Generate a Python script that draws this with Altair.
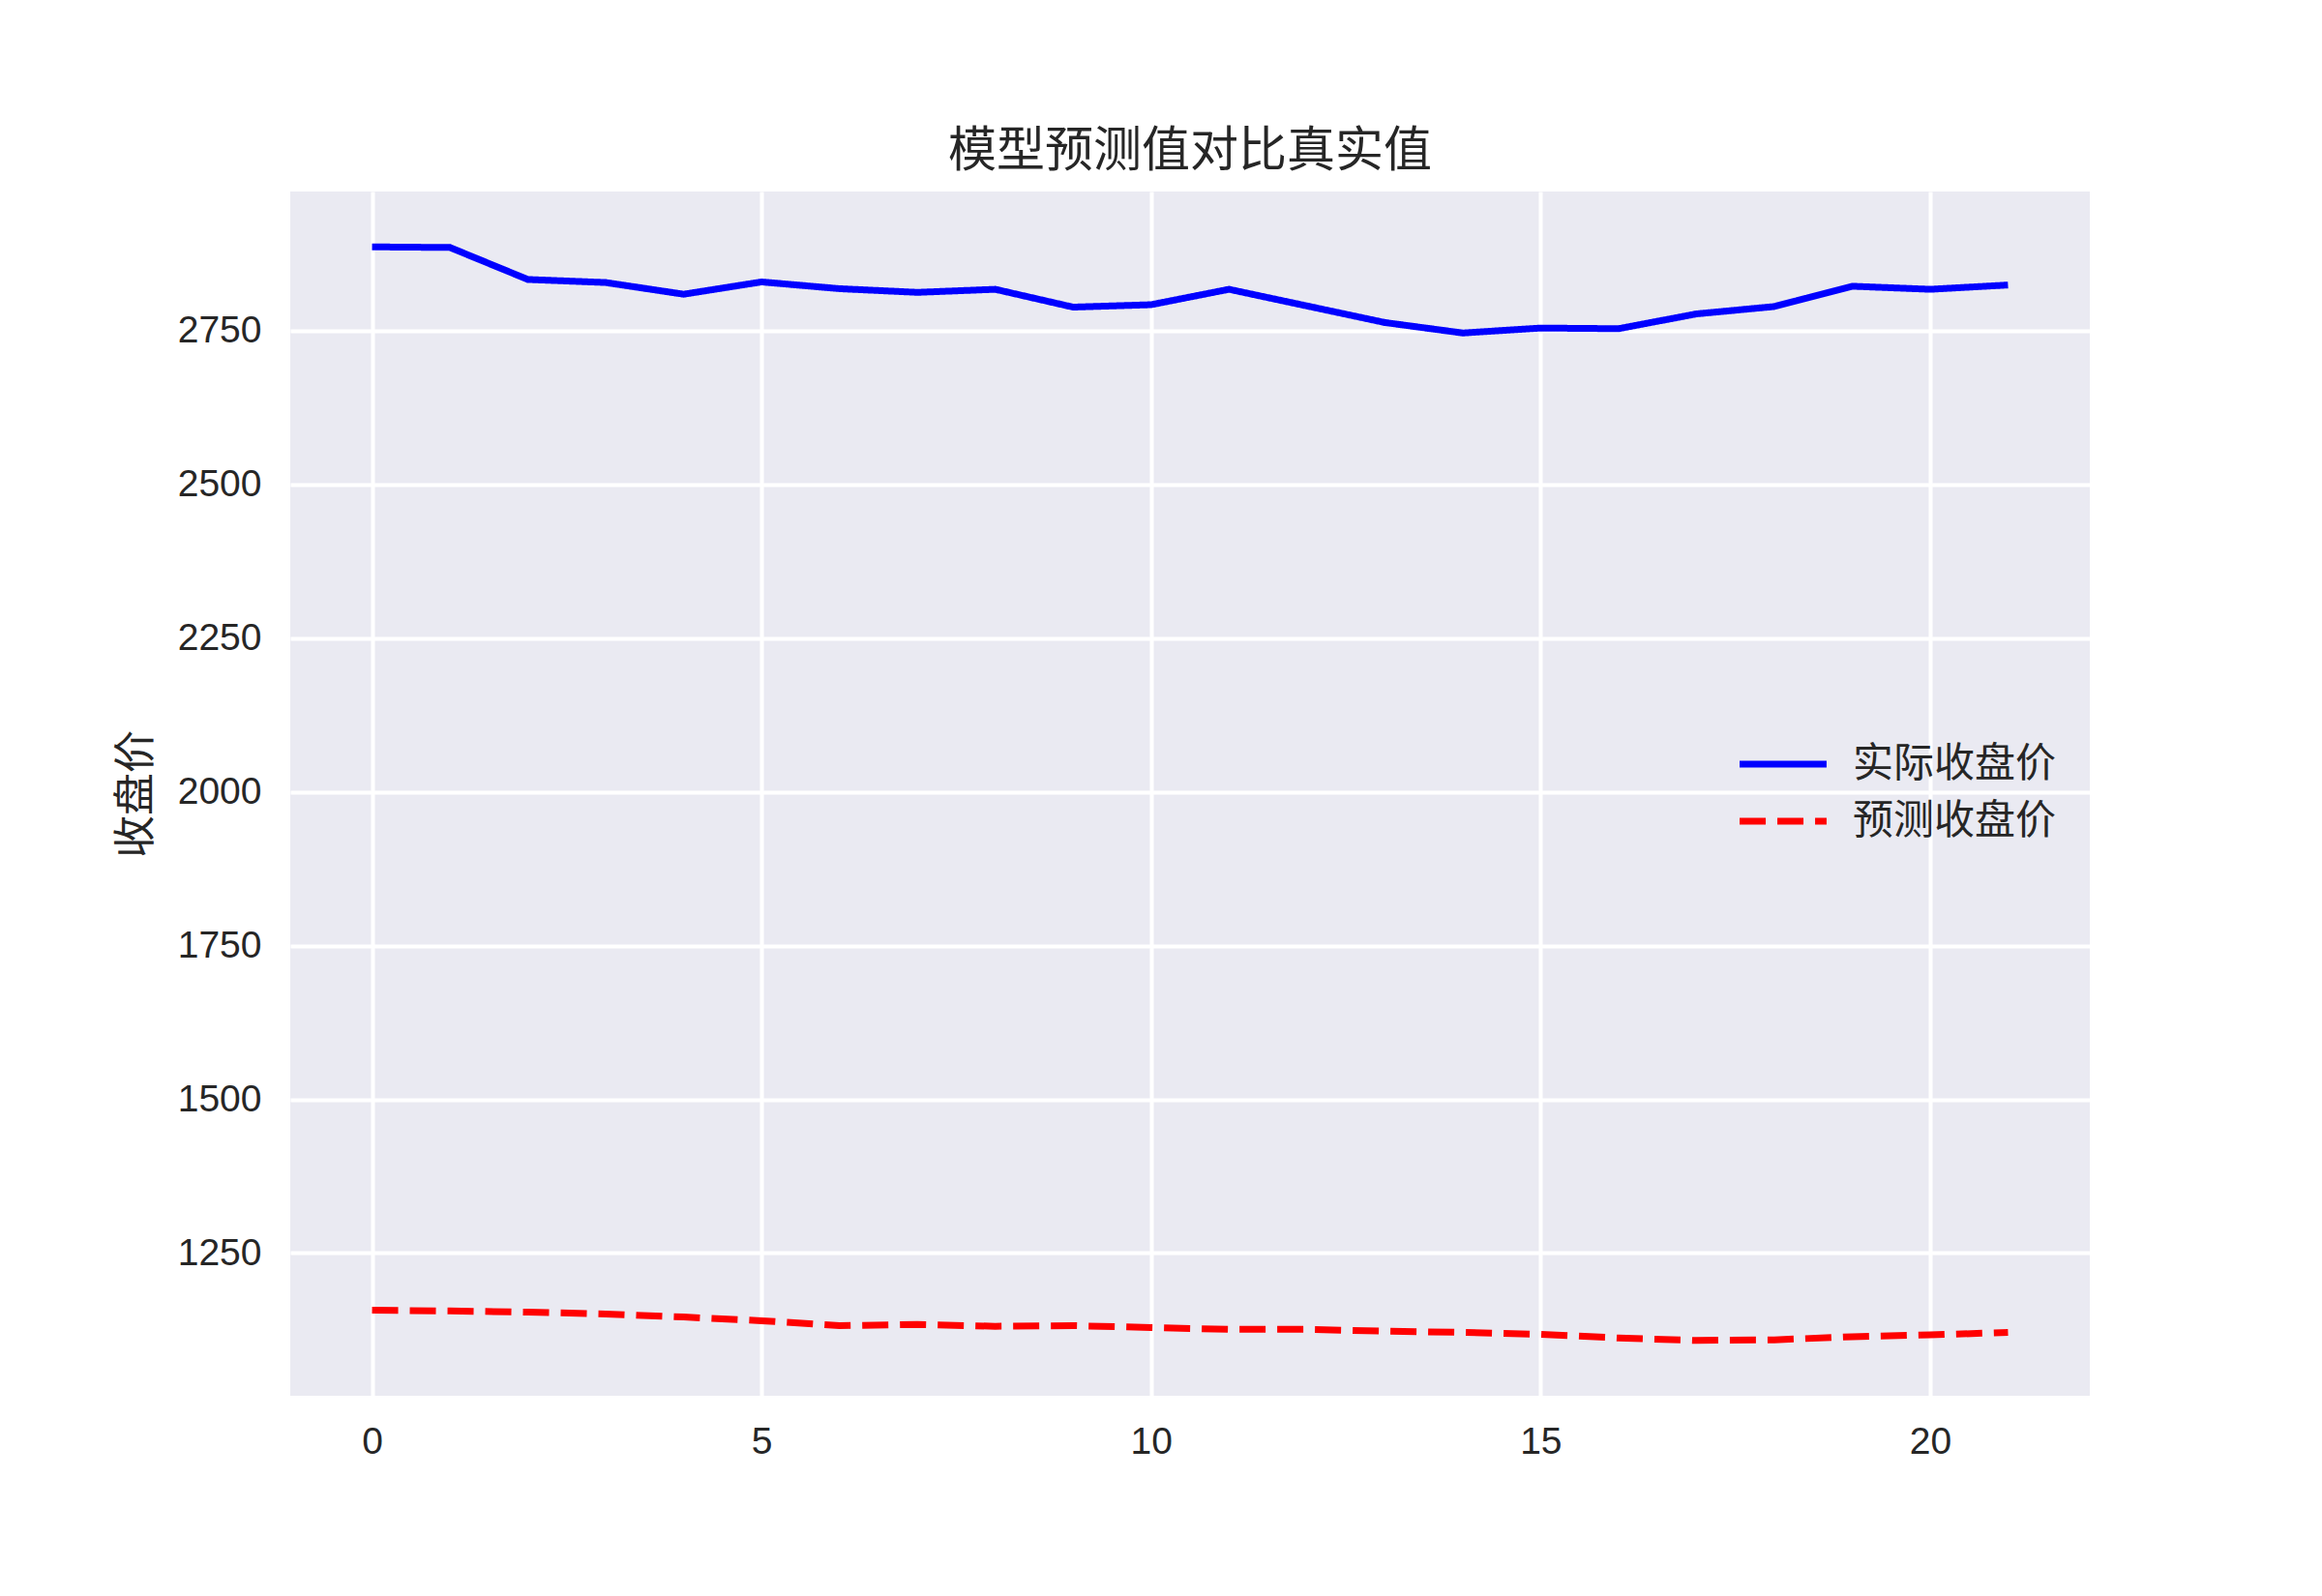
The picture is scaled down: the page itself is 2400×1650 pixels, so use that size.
import altair as alt
import pandas as pd

x_idx = list(range(22))
actual = [2886, 2885, 2833, 2828, 2809, 2829, 2818, 2812, 2817, 2788, 2792,
          2817, 2790, 2763, 2746, 2754, 2753, 2777, 2789, 2822, 2817, 2824]
pred = [1157, 1156, 1154, 1151, 1146, 1140, 1132, 1134, 1131, 1132, 1129,
        1126, 1126, 1123, 1121, 1118, 1112, 1108, 1109, 1114, 1117, 1121]
series_names = ["实际收盘价", "预测收盘价"]
title_text = "模型预测值对比真实值"
y_title = "收盘价"

df = pd.concat([
    pd.DataFrame({"x": x_idx, "v": actual, "s": series_names[0]}),
    pd.DataFrame({"x": x_idx, "v": pred, "s": series_names[1]}),
])

LAT = "Liberation Sans, Noto Sans CJK SC, sans-serif"
CJK = "Noto Sans CJK SC, sans-serif"
TXT = "#262626"

W, H = 1860, 1245

legend_cfg = dict(title=None, orient="none", legendX=1517, legendY=566,
                  symbolType="M-2,0H2", symbolSize=2020,
                  symbolStrokeWidth=7, labelOffset=46,
                  labelFont=CJK, labelFontSize=42, labelColor=TXT,
                  rowPadding=12, padding=0, labelLimit=400)

chart = alt.Chart(df).mark_line(strokeWidth=7, strokeCap="butt").encode(
    x=alt.X("x:Q", scale=alt.Scale(domain=[-1.05, 22.05], nice=False, zero=False),
            axis=alt.Axis(values=[0, 5, 10, 15, 20], title=None, labelFontSize=39,
                          labelFont=LAT, labelColor=TXT, labelPadding=28, format="d",
                          ticks=False, domain=False, gridColor="white", gridWidth=4)),
    y=alt.Y("v:Q", scale=alt.Scale(domain=[1018, 2976], nice=False, zero=False),
            axis=alt.Axis(values=[1250, 1500, 1750, 2000, 2250, 2500, 2750],
                          title=y_title, titleFont=CJK, titleFontSize=44,
                          titleFontWeight="normal", titleColor=TXT,
                          titleX=-159, titleY=H / 2, titleAngle=270,
                          titleAlign="center", titleBaseline="middle",
                          labelFontSize=39, labelFont=LAT, labelColor=TXT, format="d",
                          labelPadding=30, ticks=False, domain=False,
                          gridColor="white", gridWidth=4)),
    color=alt.Color("s:N", scale=alt.Scale(domain=series_names, range=["#0000FF", "#FF0000"]),
                    legend=alt.Legend(**legend_cfg)),
    strokeDash=alt.StrokeDash("s:N", scale=alt.Scale(domain=series_names, range=[[1, 0], [27, 12]]),
                              legend=alt.Legend(**legend_cfg)),
).properties(
    width=W, height=H,
    background="white",
    title=alt.TitleParams(title_text, font=CJK, fontSize=50, fontWeight="normal",
                          color=TXT, offset=16, anchor="middle"),
    autosize=alt.AutoSizeParams(type="none"),
    padding={"left": 292, "top": 190, "right": 232, "bottom": 199},
).configure_view(fill="#EAEAF2", stroke=None)

chart.save("out.html", embed_options={"renderer": "svg", "actions": False})
